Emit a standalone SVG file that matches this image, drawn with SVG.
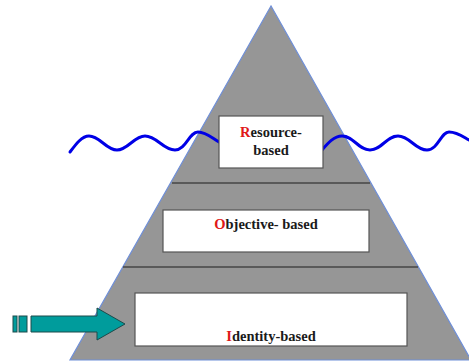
<svg xmlns="http://www.w3.org/2000/svg" width="469" height="362" viewBox="0 0 469 362">
<style>
.box{fill:#ffffff;stroke:#555555;stroke-width:1.2}
.sep{stroke:#444444;stroke-width:1.5}
.lbl{font-family:'Liberation Serif','Times New Roman',Times,serif;font-weight:bold;font-size:14.5px;fill:#1a1a1a;text-anchor:middle}
.red{fill:#e01818}
.wave{fill:none;stroke:#0000e6;stroke-width:3;stroke-linecap:round}
</style>
<rect width="469" height="362" fill="#ffffff"/>
<g id="pyramid">
<polygon points="271,6 70,360 471,360" fill="#969696" stroke="#6f8fd8" stroke-width="1.2"/>
</g>
<g id="separators">
<line class="sep" x1="172" y1="183" x2="370" y2="183"/>
<line class="sep" x1="123" y1="267" x2="418" y2="267"/>
</g>
<g id="waves">
<path class="wave" d="M70,152 C76,144 82,136 89,136 C100,136 106,150 117,150 C128,150 134,136 145,136 C157,136 163,150 175,150 C186,150 189,132 198,132 C206,132 212,138 219,142"/>
<path class="wave" d="M322,150 C328,143 334,136 342,136 C354,136 358,150 370,150 C382,150 386,136 398,136 C410,136 415,150 427,150 C438,150 441,132 449,132 C457,132 462,136 469,140"/>
</g>
<g id="node-resource">
<rect class="box" x="219" y="116" width="104" height="52"/>
<text class="lbl" x="271" y="137"><tspan class="red">R</tspan>esource-</text>
<text class="lbl" x="271" y="155">based</text>
</g>
<g id="node-objective">
<rect class="box" x="163" y="210" width="206" height="42"/>
<text class="lbl" x="266" y="229"><tspan class="red">O</tspan>bjective- based</text>
</g>
<g id="node-identity">
<rect class="box" x="135" y="293" width="272" height="53"/>
<text class="lbl" x="271" y="341"><tspan class="red">I</tspan>dentity-based</text>
</g>
<g id="connectors">
<g fill="#009c9c" stroke="#1d4a4a" stroke-width="1">
<rect x="13" y="316" width="4" height="16"/>
<rect x="19" y="316" width="8" height="16"/>
<polygon points="31,316 97,316 97,308 125,324 97,340 97,332 31,332"/>
</g>
</g>
</svg>
